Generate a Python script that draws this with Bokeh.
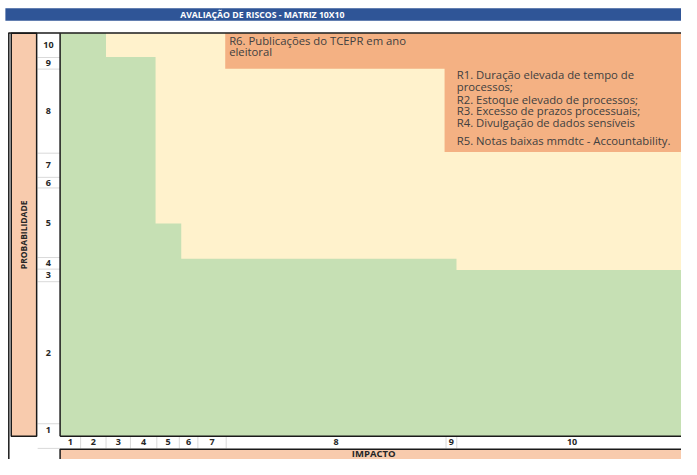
import numpy as np
from bokeh.plotting import figure
from bokeh.models import Range1d
from bokeh.core.properties import value
from bokeh.embed import file_html
from bokeh.resources import INLINE

# ---------------- data ----------------
title_text = "AVALIAÇÃO DE RISCOS - MATRIZ 10X10"
y_title = "PROBABILIDADE"
x_title = "IMPACTO"

impact_labels = ["1", "2", "3", "4", "5", "6", "7", "8", "9", "10"]
impact_widths = [21, 26, 25, 27, 23, 19, 29, 225, 11, 236]

prob_labels = ["10", "9", "8", "7", "6", "5", "4", "3", "2", "1"]
prob_heights = [25, 12, 87, 25, 11, 72, 12, 13, 147, 13]

# acceptable (green) zone: steps along impact axis, top in probability units
green_x0 = [0, 47, 97.7, 124, 405.7]
green_x1 = [47, 97.7, 124, 405.7, 642]
green_top = [417, 392.5, 220.3, 183.7, 172]

# highlighted (orange) zone
orange_x0 = [169, 393.5]
orange_x1 = [393.5, 642]
orange_bottom = [380.5, 294.3]

risk_r6 = ["R6. Publicações do TCEPR em ano", "eleitoral"]
risk_r1_r5 = ["R1. Duração elevada de tempo de",
              "processos;",
              "R2. Estoque elevado de processos;",
              "R3. Excesso de prazos processuais;",
              "R4. Divulgação de dados sensíveis",
              "R5. Notas baixas mmdtc - Accountability."]

# ---------------- colours / styles ----------------
GREEN = "#C6E0B4"
CREAM = "#FFF2CC"
ORANGE = "#F4B183"
PEACH = "#F8CBAD"
NAVY = "#2F5597"
GRID = "#D9D9D9"
DARK = "#262626"
LINE = "#1a1a1a"
TXT = "#404040"
FONT = value("Open Sans")

# geometry derived from the arrays
x_edges = np.concatenate([[0], np.cumsum(impact_widths)])
x_centers = (x_edges[:-1] + x_edges[1:]) / 2
mat_top = float(sum(prob_heights))
y_edges = mat_top - np.concatenate([[0], np.cumsum(prob_heights)])
y_centers = (y_edges[:-1] + y_edges[1:]) / 2
x_right = 642


def step_polygon(x0, x1, levels, base):
    xs, ys = [x0[0]], [base]
    for a, b, lv in zip(x0, x1, levels):
        xs += [a, b]
        ys += [lv, lv]
    xs.append(x1[-1])
    ys.append(base)
    return xs, ys


p = figure(width=681, height=459, x_range=Range1d(-61, 636), y_range=Range1d(-24, 451),
           x_axis_type=None, y_axis_type=None, toolbar_location=None,
           output_backend="svg", min_border=0, outline_line_color=None,
           background_fill_color="white", border_fill_color="white")
p.grid.visible = False

# title bar
p.quad(left=[-56], right=[700], bottom=[430], top=[443], fill_color=NAVY, line_color=None)
p.text(x=[207], y=[436.5], text=[title_text], text_font=FONT, text_font_style="bold",
       text_font_size="8.7px", text_color="white", text_align="center", text_baseline="middle")

# matrix background and zones
p.quad(left=[0], right=[x_right], bottom=[0], top=[mat_top], fill_color=CREAM, line_color=None)
gx, gy = step_polygon(green_x0, green_x1, green_top, 0)
p.patch(gx, gy, fill_color=GREEN, line_color=None)
ox, oy = step_polygon(orange_x0, orange_x1, orange_bottom, mat_top)
p.patch(ox, oy, fill_color=ORANGE, line_color=None)

# risk texts
p.text(x=[173] * len(risk_r6), y=[410, 398], text=risk_r6, text_font=FONT,
       text_font_size="11.3px", text_color=TXT, text_baseline="middle")
p.text(x=[406] * len(risk_r1_r5), y=[374.3, 362, 348.5, 337, 324.5, 306], text=risk_r1_r5,
       text_font=FONT, text_font_size="11.3px", text_color=TXT, text_baseline="middle")

# probability label column
p.quad(left=[-23], right=[0], bottom=[0], top=[mat_top], fill_color="white", line_color=None)
p.segment(x0=[-23] * (len(y_edges) - 2), x1=[0] * (len(y_edges) - 2),
          y0=y_edges[1:-1], y1=y_edges[1:-1], line_color=GRID, line_width=1)
p.text(x=[-12] * len(prob_labels), y=y_centers, text=prob_labels, text_font=FONT,
       text_font_style="bold", text_font_size="9px", text_color=DARK,
       text_align="center", text_baseline="middle")

# PROBABILIDADE box
p.quad(left=[-50], right=[-24], bottom=[0], top=[mat_top], fill_color=PEACH,
       line_color=LINE, line_width=1.5)
p.text(x=[-37], y=[mat_top / 2], text=[y_title], angle=np.pi / 2, text_font=FONT,
       text_font_style="bold", text_font_size="8.5px", text_color=DARK,
       text_align="center", text_baseline="middle")

# impact label row
p.segment(x0=x_edges[1:-1], x1=x_edges[1:-1], y0=[-12.5] * (len(x_edges) - 2),
          y1=[0] * (len(x_edges) - 2), line_color=GRID, line_width=1)
p.segment(x0=[-23], x1=[0], y0=[-12.5], y1=[-12.5], line_color=GRID, line_width=1)
p.text(x=x_centers, y=[-6.3] * len(impact_labels), text=impact_labels, text_font=FONT,
       text_font_style="bold", text_font_size="9px", text_color=DARK,
       text_align="center", text_baseline="middle")

# IMPACTO bar
p.quad(left=[0], right=[x_right], bottom=[-40], top=[-13.5], fill_color=PEACH,
       line_color=LINE, line_width=1.5)
p.text(x=[321], y=[-17.8], text=[x_title], text_font=FONT, text_font_style="bold",
       text_font_size="9.5px", text_color=DARK, text_align="center", text_baseline="middle")

# frame lines
p.segment(x0=[0, -53], x1=[x_right, x_right], y0=[0, mat_top + 0.3],
          y1=[0, mat_top + 0.3], line_color=LINE, line_width=1.5)
p.segment(x0=[0, -52.5], x1=[0, -52.5], y0=[0, -40], y1=[mat_top, mat_top + 0.3],
          line_color=LINE, line_width=1.5)

open("out.html", "w").write(file_html(p, INLINE))
